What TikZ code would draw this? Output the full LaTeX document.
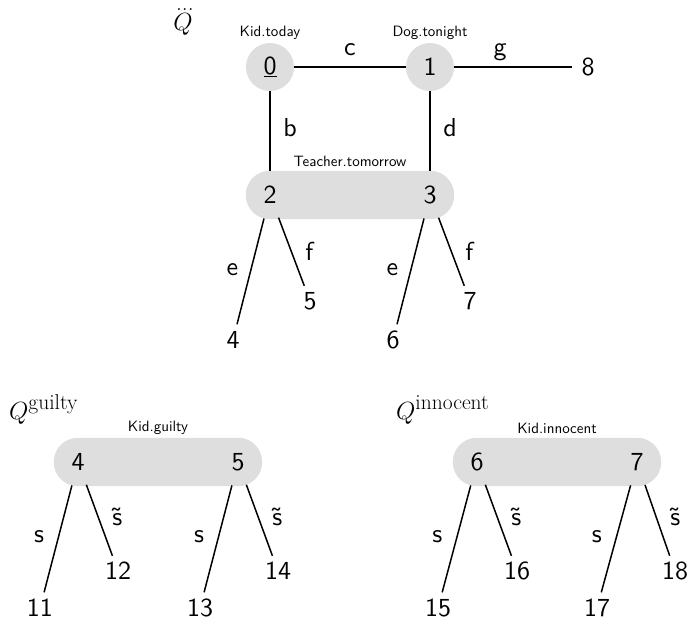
\documentclass[tikz,border=0pt]{standalone}
\usepackage{amsmath}
\usetikzlibrary{backgrounds,calc}
\font\numfont="[lmsans10-regular]:mapping=tex-text" at 26pt
\font\smallsffont="[lmsans10-regular]:mapping=tex-text" at 15pt
\definecolor{boxfill}{HTML}{DEDEDE}
\tikzset{
  basefont/.style={font=\numfont},
  bignode/.style={basefont, circle, inner sep=0pt, minimum size=48pt},
  roundnode/.style={bignode, fill=boxfill},
  leaf/.style={basefont, circle, inner sep=0pt, minimum size=32pt},
  elabel/.style={basefont, inner sep=0pt},
  lbl/.style={font=\smallsffont, inner sep=0pt},
  qlabel/.style={font=\fontsize{23.5}{27}\selectfont, inner sep=0pt, anchor=base west},
  edge/.style={line width=1.5pt},
  stadium/.style={fill=boxfill, rounded corners=24pt},
}
\newcommand{\suptext}[1]{\mbox{\rmfamily\fontsize{21.5}{25}\selectfont #1}}
\begin{document}
\begin{tikzpicture}[x=1pt,y=-1pt]
\useasboundingbox (0,0) rectangle (691,628);

% ---------- top graph ----------
\node[qlabel] (qtop) at (172,31) {$\dddot{Q}$};
\node[roundnode] (n0) at (270,67) {\underline{0}};
\node[roundnode] (n1) at (430,67) {1};
\node[leaf] (n8) at (588,67) {8};
\node[bignode] (n2) at (270,195) {2};
\node[bignode] (n3) at (430,195) {3};
\node[leaf] (n4a) at (233,340) {4};
\node[leaf] (n5a) at (310,301) {5};
\node[leaf] (n6a) at (393,340) {6};
\node[leaf] (n7a) at (470,301) {7};

\node[lbl] (l0) at ($(n0)+(0,-34)$) {Kid.today};
\node[lbl] (l1) at ($(n1)+(0,-34)$) {Dog.tonight};
\node[lbl] (l23) at ($(n2)!0.5!(n3)+(0,-34)$) {Teacher.tomorrow};

\begin{scope}[on background layer]
  \fill[stadium] (n2.west |- n2.north) rectangle (n3.east |- n3.south);
\end{scope}

\draw[edge] (n0) -- node[elabel, yshift=17pt] {c} (n1);
\draw[edge] (n1) -- node[elabel, pos=0.39, yshift=15pt] {g} (n8);
\draw[edge] (n0) -- node[elabel, xshift=20pt, yshift=3pt] {b} (n2);
\draw[edge] (n1) -- node[elabel, xshift=20pt, yshift=3pt] {d} (n3);
\draw[edge] (n2) -- node[elabel, xshift=-18pt, yshift=2pt] {e} (n4a);
\draw[edge] (n2) -- node[elabel, xshift=18pt] {f} (n5a);
\draw[edge] (n3) -- node[elabel, xshift=-18pt, yshift=2pt] {e} (n6a);
\draw[edge] (n3) -- node[elabel, xshift=18pt] {f} (n7a);

% ---------- Q guilty ----------
\node[qlabel] (qg) at (9,419) {$Q^{\suptext{guilty}}$};
\node[bignode] (g4) at (78,462) {4};
\node[bignode] (g5) at (238,462) {5};
\node[leaf] (g11) at (40,608) {11};
\node[leaf] (g12) at (118,571) {12};
\node[leaf] (g13) at (200,608) {13};
\node[leaf] (g14) at (278,571) {14};
\node[lbl] (lg) at ($(g4)!0.5!(g5)+(0,-34)$) {Kid.guilty};
\begin{scope}[on background layer]
  \fill[stadium] (g4.west |- g4.north) rectangle (g5.east |- g5.south);
\end{scope}
\draw[edge] (g4) -- node[elabel, xshift=-19pt, yshift=2pt] {s} (g11);
\draw[edge] (g4) -- node[elabel, xshift=18pt, yshift=3pt] {\~{s}} (g12);
\draw[edge] (g5) -- node[elabel, xshift=-19pt, yshift=2pt] {s} (g13);
\draw[edge] (g5) -- node[elabel, xshift=18pt, yshift=3pt] {\~{s}} (g14);

% ---------- Q innocent ----------
\node[qlabel] (qi) at (396,419) {$Q^{\suptext{innocent}}$};
\node[bignode] (i6) at (477,462) {6};
\node[bignode] (i7) at (637,462) {7};
\node[leaf] (i15) at (438,608) {15};
\node[leaf] (i16) at (517,571) {16};
\node[leaf] (i17) at (597,608) {17};
\node[leaf] (i18) at (675,571) {18};
\node[lbl] (li) at ($(i6)!0.5!(i7)+(0,-34)$) {Kid.innocent};
\begin{scope}[on background layer]
  \fill[stadium] (i6.west |- i6.north) rectangle (i7.east |- i7.south);
\end{scope}
\draw[edge] (i6) -- node[elabel, xshift=-19pt, yshift=2pt] {s} (i15);
\draw[edge] (i6) -- node[elabel, xshift=18pt, yshift=3pt] {\~{s}} (i16);
\draw[edge] (i7) -- node[elabel, xshift=-19pt, yshift=2pt] {s} (i17);
\draw[edge] (i7) -- node[elabel, xshift=18pt, yshift=3pt] {\~{s}} (i18);
\end{tikzpicture}
\end{document}
